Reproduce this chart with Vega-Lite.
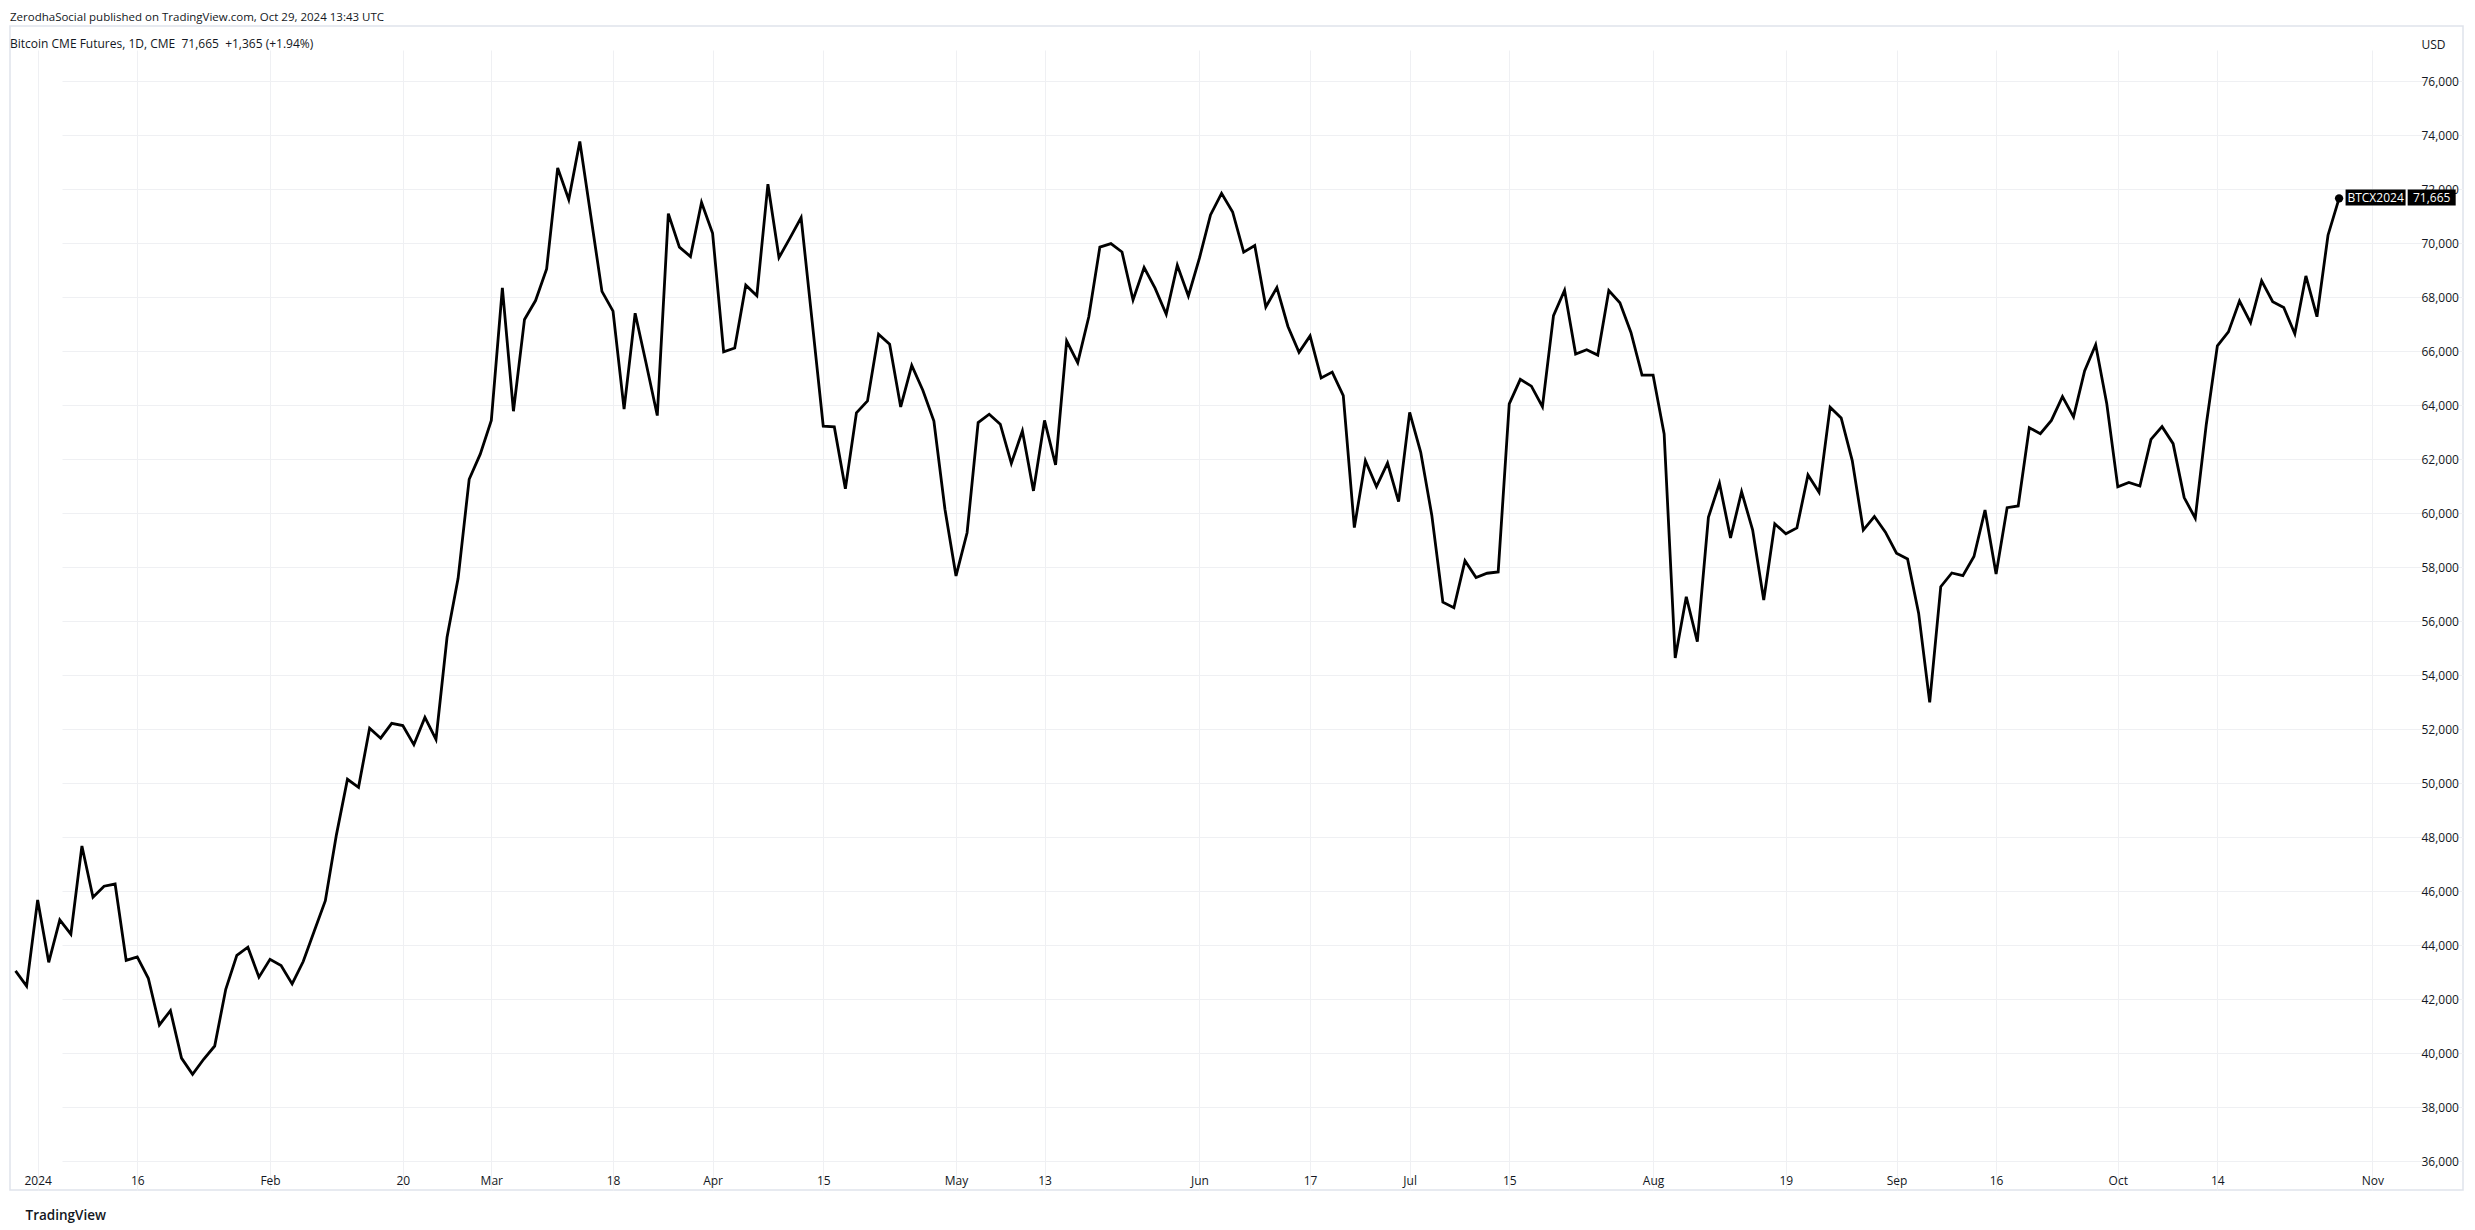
{
  "$schema": "https://vega.github.io/schema/vega-lite/v6.json",
  "width": 2453,
  "height": 1164,
  "autosize": {"type": "none"},
  "padding": {"left": 10, "top": 26, "right": 12, "bottom": 40},
  "background": "white",
  "config": {
    "font": "Open Sans",
    "view": {"stroke": "#e0e3eb", "strokeWidth": 1.5}
  },
  "title": {
    "text": "ZerodhaSocial published on TradingView.com, Oct 29, 2024 13:43 UTC",
    "subtitle": "\u00a0\u00a0Bitcoin CME Futures, 1D, CME\u00a0\u00a071,665\u00a0\u00a0+1,365 (+1.94%)",
    "anchor": "start",
    "frame": "group",
    "offset": -24,
    "font": "Open Sans",
    "fontSize": 11.5,
    "fontWeight": "normal",
    "color": "#131722",
    "subtitleFont": "Open Sans",
    "subtitleFontSize": 12,
    "subtitleColor": "#131722",
    "subtitlePadding": 16
  },
  "data": {"values": [
    {"date": "2023-12-28", "close": 43050}, {"date": "2023-12-29", "close": 42490},
    {"date": "2024-01-02", "close": 45680}, {"date": "2024-01-03", "close": 43370}, {"date": "2024-01-04", "close": 44940}, {"date": "2024-01-05", "close": 44410},
    {"date": "2024-01-08", "close": 47680}, {"date": "2024-01-09", "close": 45780}, {"date": "2024-01-10", "close": 46190}, {"date": "2024-01-11", "close": 46270}, {"date": "2024-01-12", "close": 43440},
    {"date": "2024-01-16", "close": 43570}, {"date": "2024-01-17", "close": 42780}, {"date": "2024-01-18", "close": 41050}, {"date": "2024-01-19", "close": 41580},
    {"date": "2024-01-22", "close": 39820}, {"date": "2024-01-23", "close": 39220}, {"date": "2024-01-24", "close": 39780}, {"date": "2024-01-25", "close": 40270}, {"date": "2024-01-26", "close": 42370},
    {"date": "2024-01-29", "close": 43630}, {"date": "2024-01-30", "close": 43930}, {"date": "2024-01-31", "close": 42820}, {"date": "2024-02-01", "close": 43480}, {"date": "2024-02-02", "close": 43250},
    {"date": "2024-02-05", "close": 42570}, {"date": "2024-02-06", "close": 43400}, {"date": "2024-02-07", "close": 44530}, {"date": "2024-02-08", "close": 45650}, {"date": "2024-02-09", "close": 48090},
    {"date": "2024-02-12", "close": 50150}, {"date": "2024-02-13", "close": 49850}, {"date": "2024-02-14", "close": 52040}, {"date": "2024-02-15", "close": 51670}, {"date": "2024-02-16", "close": 52220},
    {"date": "2024-02-20", "close": 52140}, {"date": "2024-02-21", "close": 51430}, {"date": "2024-02-22", "close": 52440}, {"date": "2024-02-23", "close": 51630},
    {"date": "2024-02-26", "close": 55410}, {"date": "2024-02-27", "close": 57590}, {"date": "2024-02-28", "close": 61260}, {"date": "2024-02-29", "close": 62190}, {"date": "2024-03-01", "close": 63440},
    {"date": "2024-03-04", "close": 68350}, {"date": "2024-03-05", "close": 63780}, {"date": "2024-03-06", "close": 67180}, {"date": "2024-03-07", "close": 67880}, {"date": "2024-03-08", "close": 69050},
    {"date": "2024-03-11", "close": 72790}, {"date": "2024-03-12", "close": 71620}, {"date": "2024-03-13", "close": 73770}, {"date": "2024-03-14", "close": 70990}, {"date": "2024-03-15", "close": 68220},
    {"date": "2024-03-18", "close": 67490}, {"date": "2024-03-19", "close": 63860}, {"date": "2024-03-20", "close": 67410}, {"date": "2024-03-21", "close": 65540}, {"date": "2024-03-22", "close": 63620},
    {"date": "2024-03-25", "close": 71100}, {"date": "2024-03-26", "close": 69860}, {"date": "2024-03-27", "close": 69510}, {"date": "2024-03-28", "close": 71510},
    {"date": "2024-04-01", "close": 70370}, {"date": "2024-04-02", "close": 65980}, {"date": "2024-04-03", "close": 66120}, {"date": "2024-04-04", "close": 68450}, {"date": "2024-04-05", "close": 68060},
    {"date": "2024-04-08", "close": 72190}, {"date": "2024-04-09", "close": 69470}, {"date": "2024-04-10", "close": 70200}, {"date": "2024-04-11", "close": 70950}, {"date": "2024-04-12", "close": 67100},
    {"date": "2024-04-15", "close": 63230}, {"date": "2024-04-16", "close": 63200}, {"date": "2024-04-17", "close": 60910}, {"date": "2024-04-18", "close": 63720}, {"date": "2024-04-19", "close": 64160},
    {"date": "2024-04-22", "close": 66630}, {"date": "2024-04-23", "close": 66260}, {"date": "2024-04-24", "close": 63940}, {"date": "2024-04-25", "close": 65480}, {"date": "2024-04-26", "close": 64560},
    {"date": "2024-04-29", "close": 63420}, {"date": "2024-04-30", "close": 60150}, {"date": "2024-05-01", "close": 57680}, {"date": "2024-05-02", "close": 59280}, {"date": "2024-05-03", "close": 63360},
    {"date": "2024-05-06", "close": 63670}, {"date": "2024-05-07", "close": 63300}, {"date": "2024-05-08", "close": 61850}, {"date": "2024-05-09", "close": 63050}, {"date": "2024-05-10", "close": 60830},
    {"date": "2024-05-13", "close": 63440}, {"date": "2024-05-14", "close": 61790}, {"date": "2024-05-15", "close": 66380}, {"date": "2024-05-16", "close": 65580}, {"date": "2024-05-17", "close": 67280},
    {"date": "2024-05-20", "close": 69860}, {"date": "2024-05-21", "close": 69990}, {"date": "2024-05-22", "close": 69680}, {"date": "2024-05-23", "close": 67900}, {"date": "2024-05-24", "close": 69100},
    {"date": "2024-05-28", "close": 68330}, {"date": "2024-05-29", "close": 67370}, {"date": "2024-05-30", "close": 69190}, {"date": "2024-05-31", "close": 68050},
    {"date": "2024-06-03", "close": 69450}, {"date": "2024-06-04", "close": 71050}, {"date": "2024-06-05", "close": 71850}, {"date": "2024-06-06", "close": 71160}, {"date": "2024-06-07", "close": 69670},
    {"date": "2024-06-10", "close": 69920}, {"date": "2024-06-11", "close": 67640}, {"date": "2024-06-12", "close": 68360}, {"date": "2024-06-13", "close": 66920}, {"date": "2024-06-14", "close": 65960},
    {"date": "2024-06-17", "close": 66570}, {"date": "2024-06-18", "close": 65010}, {"date": "2024-06-20", "close": 65230}, {"date": "2024-06-21", "close": 64360},
    {"date": "2024-06-24", "close": 59470}, {"date": "2024-06-25", "close": 61950}, {"date": "2024-06-26", "close": 60990}, {"date": "2024-06-27", "close": 61860}, {"date": "2024-06-28", "close": 60430},
    {"date": "2024-07-01", "close": 63740}, {"date": "2024-07-02", "close": 62260}, {"date": "2024-07-03", "close": 59930}, {"date": "2024-07-05", "close": 56710},
    {"date": "2024-07-08", "close": 56500}, {"date": "2024-07-09", "close": 58240}, {"date": "2024-07-10", "close": 57620}, {"date": "2024-07-11", "close": 57780}, {"date": "2024-07-12", "close": 57830},
    {"date": "2024-07-15", "close": 64050}, {"date": "2024-07-16", "close": 64960}, {"date": "2024-07-17", "close": 64710}, {"date": "2024-07-18", "close": 63950}, {"date": "2024-07-19", "close": 67320},
    {"date": "2024-07-22", "close": 68260}, {"date": "2024-07-23", "close": 65900}, {"date": "2024-07-24", "close": 66060}, {"date": "2024-07-25", "close": 65860}, {"date": "2024-07-26", "close": 68250},
    {"date": "2024-07-29", "close": 67800}, {"date": "2024-07-30", "close": 66700}, {"date": "2024-07-31", "close": 65120}, {"date": "2024-08-01", "close": 65120}, {"date": "2024-08-02", "close": 62940},
    {"date": "2024-08-05", "close": 54640}, {"date": "2024-08-06", "close": 56910}, {"date": "2024-08-07", "close": 55250}, {"date": "2024-08-08", "close": 59850}, {"date": "2024-08-09", "close": 61110},
    {"date": "2024-08-12", "close": 59090}, {"date": "2024-08-13", "close": 60800}, {"date": "2024-08-14", "close": 59380}, {"date": "2024-08-15", "close": 56790}, {"date": "2024-08-16", "close": 59610},
    {"date": "2024-08-19", "close": 59240}, {"date": "2024-08-20", "close": 59460}, {"date": "2024-08-21", "close": 61420}, {"date": "2024-08-22", "close": 60780}, {"date": "2024-08-23", "close": 63930},
    {"date": "2024-08-26", "close": 63530}, {"date": "2024-08-27", "close": 61950}, {"date": "2024-08-28", "close": 59380}, {"date": "2024-08-29", "close": 59880}, {"date": "2024-08-30", "close": 59300},
    {"date": "2024-09-03", "close": 58520}, {"date": "2024-09-04", "close": 58310}, {"date": "2024-09-05", "close": 56300}, {"date": "2024-09-06", "close": 53000},
    {"date": "2024-09-09", "close": 57280}, {"date": "2024-09-10", "close": 57790}, {"date": "2024-09-11", "close": 57690}, {"date": "2024-09-12", "close": 58400}, {"date": "2024-09-13", "close": 60120},
    {"date": "2024-09-16", "close": 57750}, {"date": "2024-09-17", "close": 60210}, {"date": "2024-09-18", "close": 60270}, {"date": "2024-09-19", "close": 63170}, {"date": "2024-09-20", "close": 62950},
    {"date": "2024-09-23", "close": 63440}, {"date": "2024-09-24", "close": 64320}, {"date": "2024-09-25", "close": 63570}, {"date": "2024-09-26", "close": 65270}, {"date": "2024-09-27", "close": 66240},
    {"date": "2024-09-30", "close": 64070}, {"date": "2024-10-01", "close": 60980}, {"date": "2024-10-02", "close": 61140}, {"date": "2024-10-03", "close": 61010}, {"date": "2024-10-04", "close": 62740},
    {"date": "2024-10-07", "close": 63210}, {"date": "2024-10-08", "close": 62580}, {"date": "2024-10-09", "close": 60580}, {"date": "2024-10-10", "close": 59820}, {"date": "2024-10-11", "close": 63300},
    {"date": "2024-10-14", "close": 66200}, {"date": "2024-10-15", "close": 66720}, {"date": "2024-10-16", "close": 67860}, {"date": "2024-10-17", "close": 67060}, {"date": "2024-10-18", "close": 68610},
    {"date": "2024-10-21", "close": 67840}, {"date": "2024-10-22", "close": 67620}, {"date": "2024-10-23", "close": 66650}, {"date": "2024-10-24", "close": 68790}, {"date": "2024-10-25", "close": 67280},
    {"date": "2024-10-28", "close": 70300}, {"date": "2024-10-29", "close": 71665}
  ]},
  "encoding": {
    "x": {
      "field": "date",
      "type": "ordinal",
      "scale": {
        "type": "point",
        "domain": {"unionWith": ["2024-10-30", "2024-10-31", "2024-11-01", "2024-11-04", "2024-11-05", "2024-11-06"]},
        "range": [0, 2401]
      },
      "axis": {
        "orient": "bottom",
        "offset": -24,
        "values": ["2024-01-02", "2024-01-16", "2024-02-01", "2024-02-20", "2024-03-01", "2024-03-18", "2024-04-01", "2024-04-15", "2024-05-01", "2024-05-13", "2024-06-03", "2024-06-17", "2024-07-01", "2024-07-15", "2024-08-01", "2024-08-19", "2024-09-03", "2024-09-16", "2024-10-01", "2024-10-14", "2024-11-01"],
        "labelExpr": "datum.value == '2024-01-02' ? '2024' : (toNumber(slice(datum.value, 8)) <= 3 ? timeFormat(datetime(2024, toNumber(slice(datum.value, 5, 7)) - 1, 1), '%b') : toString(toNumber(slice(datum.value, 8))))",
        "labelAngle": 0,
        "labelAlign": "center",
        "labelBaseline": "top",
        "labelPadding": 9,
        "labelFontSize": 12,
        "labelColor": "#131722",
        "labelOverlap": false,
        "labelFlush": false,
        "domain": false,
        "ticks": false,
        "grid": true,
        "gridColor": "#eff0f3",
        "gridWidth": 1,
        "title": "TradingView",
        "titleX": 15,
        "titleY": 49,
        "titleAlign": "left",
        "titleBaseline": "middle",
        "titleFontSize": 13.5,
        "titleFontWeight": 600,
        "titleColor": "#131722"
      }
    },
    "y": {
      "field": "close",
      "type": "quantitative",
      "scale": {"domain": [35826, 78048], "range": [1140, 0], "nice": false, "zero": false},
      "axis": {
        "orient": "right",
        "offset": -52,
        "values": [36000, 38000, 40000, 42000, 44000, 46000, 48000, 50000, 52000, 54000, 56000, 58000, 60000, 62000, 64000, 66000, 68000, 70000, 72000, 74000, 76000],
        "format": ",d",
        "labelAlign": "left",
        "labelBaseline": "middle",
        "labelPadding": 10,
        "labelFontSize": 12,
        "labelColor": "#131722",
        "domain": false,
        "ticks": false,
        "grid": true,
        "gridColor": "#eff0f3",
        "gridWidth": 1,
        "title": "USD",
        "titleAngle": 0,
        "titleX": 22,
        "titleY": 18,
        "titleAlign": "center",
        "titleBaseline": "middle",
        "titleFontSize": 12,
        "titleFontWeight": "normal",
        "titleColor": "#131722"
      }
    }
  },
  "layer": [
    {"mark": {"type": "line", "color": "#000000", "strokeWidth": 2.8, "strokeJoin": "miter", "clip": true}},
    {
      "transform": [{"filter": "datum.date == '2024-10-29'"}],
      "mark": {"type": "point", "filled": true, "color": "#000000", "opacity": 1, "size": 70}
    },
    {
      "transform": [{"filter": "datum.date == '2024-10-29'"}],
      "mark": {"type": "point", "filled": true, "color": "#000000", "opacity": 1, "shape": "M-1,-0.2667H1V0.2667H-1Z", "size": 3600, "xOffset": 36.5, "yOffset": -0.8}
    },
    {
      "transform": [{"filter": "datum.date == '2024-10-29'"}],
      "mark": {"type": "point", "filled": true, "color": "#000000", "opacity": 1, "shape": "M-1,-0.3333H1V0.3333H-1Z", "size": 2304, "xOffset": 92.6, "yOffset": -0.8}
    },
    {
      "transform": [{"filter": "datum.date == '2024-10-29'"}],
      "mark": {"type": "text", "color": "#ffffff", "font": "Open Sans", "fontSize": 12, "align": "center", "baseline": "middle", "xOffset": 36.5, "yOffset": -0.8},
      "encoding": {"text": {"value": "BTCX2024"}}
    },
    {
      "transform": [{"filter": "datum.date == '2024-10-29'"}],
      "mark": {"type": "text", "color": "#ffffff", "font": "Open Sans", "fontSize": 12, "align": "center", "baseline": "middle", "xOffset": 92.6, "yOffset": -0.8},
      "encoding": {"text": {"field": "close", "type": "quantitative", "format": ","}}
    }
  ]
}
